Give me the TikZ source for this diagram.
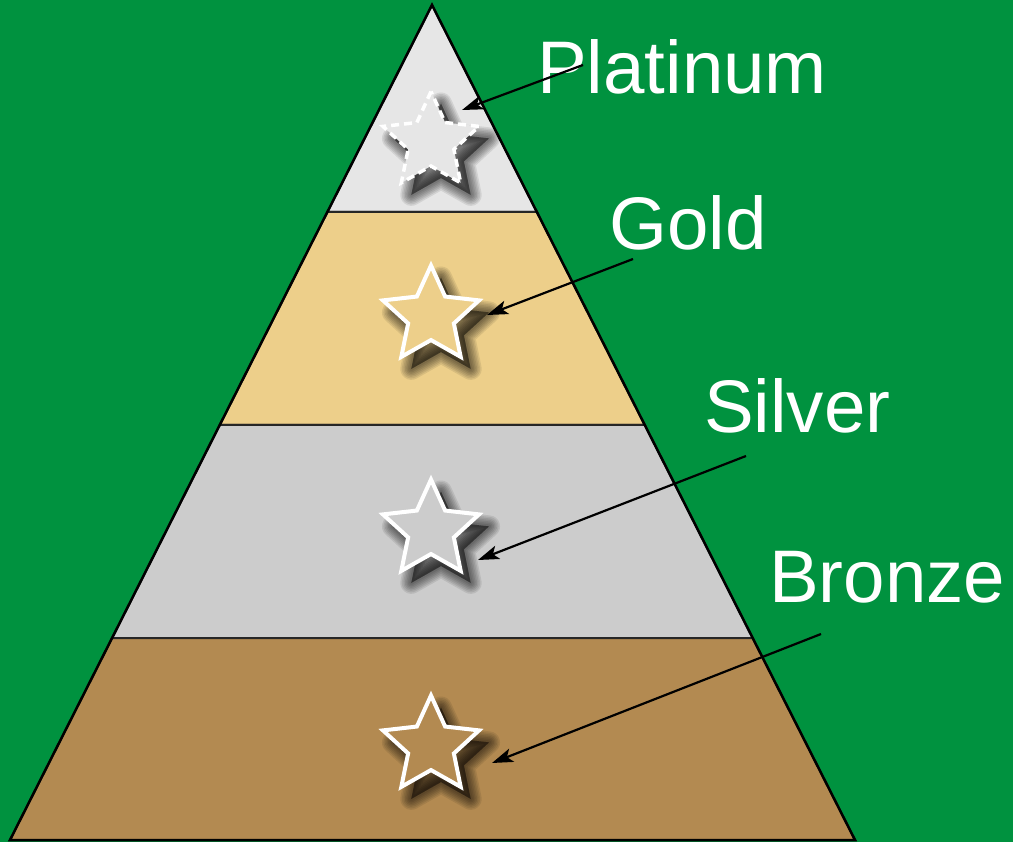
\documentclass[tikz,border=0pt]{standalone}
\usepackage{fontspec}
\setmainfont{Liberation Sans}
\usetikzlibrary{shapes.geometric,arrows.meta}
\definecolor{bg}{HTML}{00923F}
\definecolor{platc}{HTML}{E6E6E6}
\definecolor{goldc}{HTML}{EDCF8A}
\definecolor{silvc}{HTML}{CCCCCC}
\definecolor{bronc}{HTML}{B38A51}
\tikzset{
  band/.style={draw=black!85, line width=2pt, line join=miter},
  starnode/.style={star, star points=5, star point ratio=2.1, minimum size=101pt, inner sep=0pt, draw=white, line width=4pt, line join=miter},
  shadowstar/.style={star, star points=5, star point ratio=2.1, minimum size=101pt, inner sep=0pt, fill=black, draw=black, line join=round, opacity=0.085},
  label/.style={text=white, font=\fontsize{74.5}{74.5}\selectfont, inner sep=0pt, anchor=base west},
  pointer/.style={draw=black, line width=2.2pt, -{Stealth[length=21pt,width=14pt,inset=5pt]}}
}
\begin{document}
\begin{tikzpicture}[x=1pt,y=-1pt]
\fill[bg] (0,0) rectangle (1013,842);
\useasboundingbox (0,0) rectangle (1013,842);
% bands
\filldraw[platc, band] (432,5) -- (536.9,212) -- (327.4,212) -- cycle;
\filldraw[goldc, band] (327.4,212) -- (536.9,212) -- (644.8,425) -- (219.7,425) -- cycle;
\filldraw[silvc, band] (219.7,425) -- (644.8,425) -- (752.7,638) -- (112.1,638) -- cycle;
\filldraw[bronc, band] (112.1,638) -- (752.7,638) -- (855,840) -- (10,840) -- cycle;
\draw[line width=2.5pt, line join=miter] (432,5) -- (855,840) -- (10,840) -- cycle;
% shadows
\foreach \cy in {142,316,530,746} {
  \foreach \w in {22,19,...,2} {
    \node[shadowstar, line width=\w pt] at (441,\cy+12) {};
  }
}
% stars
\node[starnode, fill=platc, draw=white, dash pattern=on 8pt off 5pt, line width=3.5pt] (s1) at (431,142) {};
\node[starnode, fill=goldc] (s2) at (431,316) {};
\node[starnode, fill=silvc] (s3) at (431,530) {};
\node[starnode, fill=bronc] (s4) at (431,746) {};
% labels
\node[label] (l1) at (537,94) {Platinum};
\node[label] (l2) at (609,250) {Gold};
\node[label] (l3) at (704,432) {Silver};
\node[label] (l4) at (769,602) {Bronze};
% arrows
\coordinate (a1) at (583,65);  \coordinate (t1) at (462,110);
\coordinate (a2) at (633,259); \coordinate (t2) at (487,315);
\coordinate (a3) at (746,456); \coordinate (t3) at (478,560);
\coordinate (a4) at (821,634); \coordinate (t4) at (492,763);
\draw[pointer] (a1) -- (t1);
\draw[pointer] (a2) -- (t2);
\draw[pointer] (a3) -- (t3);
\draw[pointer] (a4) -- (t4);
\end{tikzpicture}
\end{document}
